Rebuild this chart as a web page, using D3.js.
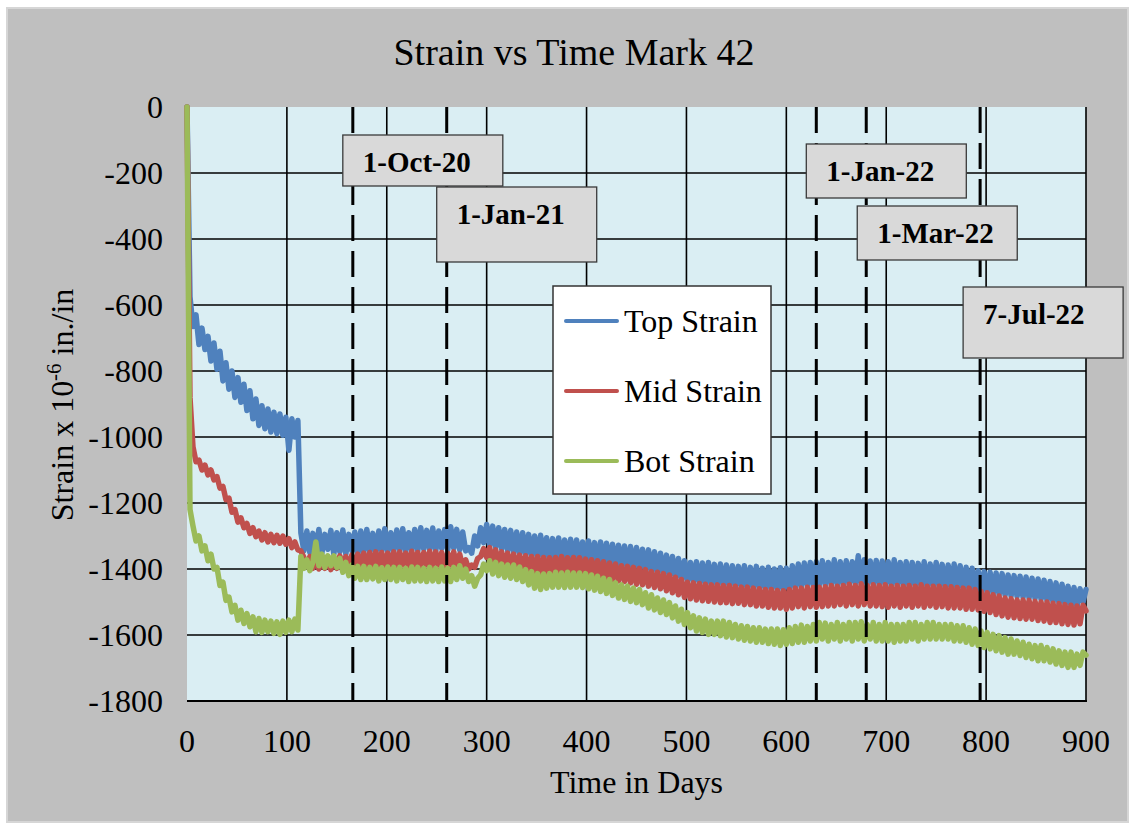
<!DOCTYPE html>
<html><head><meta charset="utf-8">
<script src="https://cdn.jsdelivr.net/npm/d3@7"></script>
<style>html,body{margin:0;padding:0;background:#fff;} svg{display:block;}</style>
</head><body>
<svg id="chart" width="1135" height="829"></svg>
<script>
// ---------------- DATA ----------------
const chartTitle = "Strain vs Time Mark 42";
const xTitle = "Time in Days";
const seriesNames = ["Top Strain", "Mid Strain", "Bot Strain"];
const xTicks = [0, 100, 200, 300, 400, 500, 600, 700, 800, 900];
const yTicks = [0, -200, -400, -600, -800, -1000, -1200, -1400, -1600, -1800];
const eventDays = [166, 260, 630, 680, 794];
const eventLabels = ["1-Oct-20", "1-Jan-21", "1-Jan-22", "1-Mar-22", "7-Jul-22"];
// readings sampled every 3 days (day 0 .. 900)
const sampleDays = d3.range(0, 901, 3);

const topStrain = [
0,-575,-665,-630,-720,-670,-735,-695,-770,-715,
-795,-740,-830,-775,-855,-800,-880,-820,-895,-840,
-920,-860,-945,-885,-965,-905,-975,-915,-985,-925,
-990,-930,-995,-940,-1040,-945,-1000,-950,-1290,-1345,
-1285,-1350,-1292,-1345,-1280,-1352,-1295,-1340,-1283,-1355,
-1290,-1348,-1282,-1355,-1295,-1345,-1288,-1358,-1285,-1350,
-1280,-1347,-1292,-1353,-1285,-1345,-1278,-1350,-1290,-1345,
-1282,-1343,-1278,-1348,-1290,-1342,-1280,-1345,-1275,-1340,
-1283,-1340,-1276,-1345,-1285,-1338,-1280,-1343,-1272,-1337,
-1280,-1342,-1288,-1345,-1335,-1352,-1300,-1330,-1275,-1320,
-1265,-1330,-1270,-1335,-1275,-1340,-1280,-1345,-1283,-1352,
-1288,-1355,-1290,-1358,-1295,-1362,-1300,-1365,-1298,-1368,
-1305,-1370,-1308,-1372,-1306,-1375,-1312,-1374,-1310,-1378,
-1312,-1380,-1318,-1382,-1315,-1385,-1320,-1388,-1318,-1386,
-1322,-1390,-1325,-1395,-1328,-1392,-1330,-1398,-1332,-1400,
-1335,-1400,-1340,-1405,-1342,-1410,-1348,-1412,-1352,-1418,
-1358,-1422,-1362,-1428,-1368,-1432,-1375,-1438,-1380,-1440,
-1378,-1445,-1382,-1448,-1380,-1450,-1386,-1452,-1385,-1450,
-1388,-1455,-1390,-1452,-1392,-1458,-1390,-1460,-1395,-1458,
-1392,-1460,-1398,-1462,-1395,-1465,-1400,-1462,-1396,-1468,
-1398,-1462,-1390,-1458,-1385,-1455,-1382,-1450,-1380,-1452,
-1378,-1448,-1375,-1450,-1380,-1447,-1372,-1450,-1378,-1448,
-1375,-1447,-1378,-1445,-1360,-1448,-1372,-1450,-1376,-1446,
-1374,-1450,-1376,-1448,-1378,-1452,-1372,-1450,-1380,-1450,
-1378,-1455,-1380,-1452,-1383,-1455,-1378,-1456,-1385,-1452,
-1380,-1456,-1386,-1458,-1388,-1460,-1385,-1462,-1390,-1462,
-1395,-1465,-1398,-1468,-1405,-1470,-1408,-1472,-1410,-1475,
-1412,-1478,-1414,-1480,-1418,-1482,-1420,-1484,-1422,-1486,
-1424,-1488,-1428,-1490,-1430,-1492,-1434,-1496,-1438,-1500,
-1442,-1504,-1446,-1508,-1452,-1512,-1456,-1515,-1460,-1500,
-1462];

const midStrain = [
0,-880,-1030,-1075,-1070,-1100,-1085,-1115,-1100,-1130,
-1120,-1155,-1150,-1190,-1185,-1228,-1220,-1258,-1245,-1275,
-1262,-1292,-1275,-1302,-1285,-1312,-1290,-1318,-1295,-1320,
-1298,-1322,-1300,-1325,-1308,-1335,-1318,-1342,-1345,-1365,
-1392,-1362,-1398,-1365,-1400,-1360,-1398,-1362,-1402,-1365,
-1398,-1360,-1395,-1362,-1400,-1358,-1395,-1355,-1392,-1352,
-1390,-1350,-1392,-1348,-1388,-1350,-1392,-1352,-1388,-1348,
-1392,-1348,-1388,-1352,-1392,-1346,-1388,-1350,-1392,-1350,
-1388,-1346,-1392,-1348,-1388,-1350,-1392,-1352,-1388,-1348,
-1392,-1355,-1392,-1372,-1400,-1388,-1395,-1368,-1362,-1338,
-1365,-1335,-1378,-1342,-1385,-1348,-1390,-1352,-1395,-1355,
-1400,-1358,-1402,-1360,-1408,-1362,-1410,-1362,-1412,-1365,
-1410,-1366,-1412,-1365,-1410,-1362,-1415,-1366,-1412,-1365,
-1415,-1366,-1415,-1370,-1418,-1372,-1420,-1375,-1422,-1378,
-1428,-1382,-1432,-1385,-1436,-1390,-1438,-1392,-1442,-1395,
-1446,-1398,-1448,-1402,-1452,-1408,-1456,-1410,-1460,-1414,
-1466,-1418,-1472,-1425,-1478,-1432,-1486,-1440,-1490,-1442,
-1494,-1444,-1496,-1446,-1498,-1448,-1500,-1448,-1502,-1450,
-1502,-1450,-1505,-1452,-1504,-1455,-1508,-1455,-1508,-1458,
-1512,-1460,-1512,-1462,-1516,-1462,-1518,-1465,-1518,-1466,
-1522,-1462,-1518,-1458,-1514,-1458,-1518,-1455,-1514,-1456,
-1516,-1455,-1514,-1454,-1512,-1450,-1512,-1452,-1508,-1450,
-1512,-1446,-1508,-1450,-1512,-1445,-1508,-1450,-1512,-1448,
-1512,-1450,-1514,-1448,-1516,-1452,-1512,-1450,-1516,-1452,
-1512,-1450,-1516,-1452,-1512,-1448,-1516,-1452,-1512,-1452,
-1516,-1452,-1514,-1454,-1518,-1454,-1518,-1456,-1518,-1458,
-1522,-1458,-1522,-1462,-1524,-1468,-1528,-1472,-1532,-1478,
-1538,-1482,-1542,-1488,-1546,-1490,-1548,-1494,-1550,-1494,
-1552,-1495,-1552,-1498,-1556,-1500,-1558,-1500,-1562,-1504,
-1562,-1505,-1566,-1508,-1568,-1510,-1570,-1512,-1566,-1510,
-1527];

const botStrain = [
0,-1220,-1270,-1315,-1300,-1345,-1330,-1375,-1355,-1400,
-1395,-1450,-1440,-1495,-1485,-1530,-1510,-1555,-1525,-1565,
-1535,-1575,-1545,-1590,-1550,-1592,-1555,-1590,-1558,-1595,
-1560,-1598,-1558,-1592,-1555,-1590,-1552,-1585,-1362,-1398,
-1372,-1405,-1380,-1318,-1390,-1355,-1395,-1360,-1390,-1360,
-1395,-1368,-1410,-1380,-1420,-1388,-1428,-1392,-1432,-1392,
-1432,-1395,-1430,-1392,-1436,-1396,-1432,-1394,-1432,-1395,
-1436,-1395,-1432,-1398,-1438,-1394,-1436,-1395,-1436,-1398,
-1438,-1395,-1436,-1398,-1438,-1394,-1436,-1398,-1438,-1395,
-1432,-1390,-1428,-1400,-1438,-1420,-1452,-1428,-1418,-1385,
-1405,-1375,-1415,-1380,-1420,-1385,-1425,-1388,-1428,-1388,
-1432,-1394,-1438,-1402,-1448,-1408,-1458,-1414,-1462,-1415,
-1458,-1414,-1455,-1410,-1455,-1412,-1456,-1410,-1455,-1412,
-1455,-1412,-1456,-1414,-1460,-1418,-1464,-1422,-1468,-1428,
-1474,-1432,-1480,-1442,-1488,-1448,-1492,-1452,-1498,-1458,
-1502,-1462,-1508,-1472,-1518,-1478,-1524,-1488,-1532,-1494,
-1538,-1502,-1548,-1512,-1558,-1522,-1568,-1532,-1578,-1542,
-1588,-1548,-1592,-1552,-1598,-1558,-1598,-1558,-1602,-1558,
-1606,-1562,-1608,-1568,-1612,-1572,-1616,-1574,-1618,-1578,
-1622,-1578,-1622,-1582,-1626,-1582,-1628,-1582,-1632,-1584,
-1628,-1578,-1626,-1574,-1622,-1570,-1622,-1574,-1618,-1568,
-1618,-1562,-1612,-1564,-1618,-1568,-1612,-1562,-1618,-1568,
-1612,-1562,-1618,-1562,-1612,-1560,-1618,-1568,-1612,-1562,
-1618,-1568,-1618,-1562,-1618,-1568,-1622,-1568,-1618,-1568,
-1618,-1562,-1612,-1562,-1618,-1568,-1612,-1562,-1612,-1562,
-1612,-1568,-1612,-1568,-1612,-1568,-1618,-1572,-1618,-1572,
-1622,-1578,-1628,-1582,-1632,-1588,-1638,-1592,-1642,-1598,
-1648,-1602,-1652,-1608,-1658,-1612,-1658,-1618,-1662,-1622,
-1668,-1628,-1672,-1632,-1678,-1632,-1678,-1638,-1682,-1642,
-1688,-1648,-1692,-1652,-1698,-1652,-1698,-1658,-1692,-1652,
-1661];

// ---------------- STYLE / LAYOUT ----------------
const colors = ["#4f81bd", "#c0504d", "#9bbb59"];
const FONT = "'Times New Roman', 'Liberation Serif', serif";
const plot = {left: 187, right: 1086, top: 107, bottom: 701};
const callouts = [
  {dx: -10, top: 135, h: 51},
  {dx: -10, top: 187, h: 75},
  {dx: -10, top: 144, h: 54},
  {dx: -9,  top: 206, h: 54},
  {dx: -17, top: 287, h: 71}
];

const svg = d3.select("#chart");
const x = d3.scaleLinear().domain([0, 900]).range([plot.left, plot.right]);
const y = d3.scaleLinear().domain([-1800, 0]).range([plot.bottom, plot.top]);

// chart background
svg.append("rect").attr("x", 7).attr("y", 8).attr("width", 1121).attr("height", 814)
  .attr("fill", "#bfbfbf").attr("stroke", "#d6d6d6").attr("stroke-width", 2);

// plot background
svg.append("rect").attr("x", plot.left).attr("y", plot.top)
  .attr("width", plot.right - plot.left).attr("height", plot.bottom - plot.top)
  .attr("fill", "#daeef3");

// gridlines
const grid = svg.append("g").attr("stroke", "#000").attr("stroke-width", 1.6);
grid.selectAll("line.h").data(yTicks.filter(v => v !== 0 && v !== -1800)).join("line")
  .attr("x1", plot.left).attr("x2", plot.right)
  .attr("y1", d => y(d)).attr("y2", d => y(d));
grid.selectAll("line.v").data(xTicks.filter(v => v !== 0)).join("line")
  .attr("x1", d => x(d)).attr("x2", d => x(d))
  .attr("y1", plot.top).attr("y2", plot.bottom);

// series
const allSeries = [topStrain, midStrain, botStrain];
const line = d3.line().x((d, i) => x(sampleDays[i])).y(d => y(d));
allSeries.forEach((s, k) => {
  svg.append("path").datum(s).attr("d", line)
    .attr("fill", "none").attr("stroke", colors[k]).attr("stroke-width", 5.5)
    .attr("stroke-linejoin", "round").attr("stroke-linecap", "round");
});

// x axis line
svg.append("line").attr("x1", plot.left).attr("x2", plot.right + 1)
  .attr("y1", plot.bottom).attr("y2", plot.bottom)
  .attr("stroke", "#000").attr("stroke-width", 2);

// event dashed lines
svg.append("g").selectAll("line").data(eventDays).join("line")
  .attr("x1", d => x(d)).attr("x2", d => x(d))
  .attr("y1", y(0)).attr("y2", y(-1800))
  .attr("stroke", "#000").attr("stroke-width", 3).attr("stroke-dasharray", "26,10");

// callout boxes
const cg = svg.append("g").selectAll("g").data(eventLabels).join("g");
cg.append("rect")
  .attr("x", (d, i) => x(eventDays[i]) + callouts[i].dx)
  .attr("y", (d, i) => callouts[i].top)
  .attr("width", 160).attr("height", (d, i) => callouts[i].h)
  .attr("fill", "#d9d9d9").attr("stroke", "#3a3a3a").attr("stroke-width", 1.3);
cg.append("text")
  .attr("x", (d, i) => x(eventDays[i]) + callouts[i].dx + 20)
  .attr("y", (d, i) => callouts[i].top + 37)
  .attr("font-family", FONT).attr("font-weight", "bold").attr("font-size", 29)
  .attr("fill", "#000").text(d => d);

// y tick labels
svg.append("g").selectAll("text").data(yTicks).join("text")
  .attr("x", 163).attr("y", d => y(d) + 11)
  .attr("text-anchor", "end").attr("font-family", FONT).attr("font-size", 32)
  .attr("fill", "#000").text(d => d);

// x tick labels
svg.append("g").selectAll("text").data(xTicks).join("text")
  .attr("x", d => x(d)).attr("y", plot.bottom + 51)
  .attr("text-anchor", "middle").attr("font-family", FONT).attr("font-size", 32)
  .attr("fill", "#000").text(d => d);

// titles
svg.append("text").attr("x", 574).attr("y", 65).attr("text-anchor", "middle")
  .attr("font-family", FONT).attr("font-size", 38).attr("fill", "#000").text(chartTitle);
svg.append("text").attr("x", (plot.left + plot.right) / 2).attr("y", 793).attr("text-anchor", "middle")
  .attr("font-family", FONT).attr("font-size", 32).attr("fill", "#000").text(xTitle);

const yt = svg.append("text").attr("transform", "translate(73,405) rotate(-90)")
  .attr("text-anchor", "middle").attr("font-family", FONT).attr("font-size", 32).attr("fill", "#000");
yt.append("tspan").text("Strain x 10");
yt.append("tspan").attr("font-size", 21).attr("dy", -12).text("-6");
yt.append("tspan").attr("dy", 12).text(" in./in");

// legend
const lg = svg.append("g");
lg.append("rect").attr("x", 553).attr("y", 286).attr("width", 218).attr("height", 208)
  .attr("fill", "#fff").attr("stroke", "#333").attr("stroke-width", 1.5);
seriesNames.forEach((name, i) => {
  const ly = 321 + i * 70;
  lg.append("line").attr("x1", 566).attr("x2", 617).attr("y1", ly).attr("y2", ly)
    .attr("stroke", colors[i]).attr("stroke-width", 4).attr("stroke-linecap", "round");
  lg.append("text").attr("x", 624).attr("y", ly + 11)
    .attr("font-family", FONT).attr("font-size", 32).attr("fill", "#000").text(name);
});
</script>
</body></html>
